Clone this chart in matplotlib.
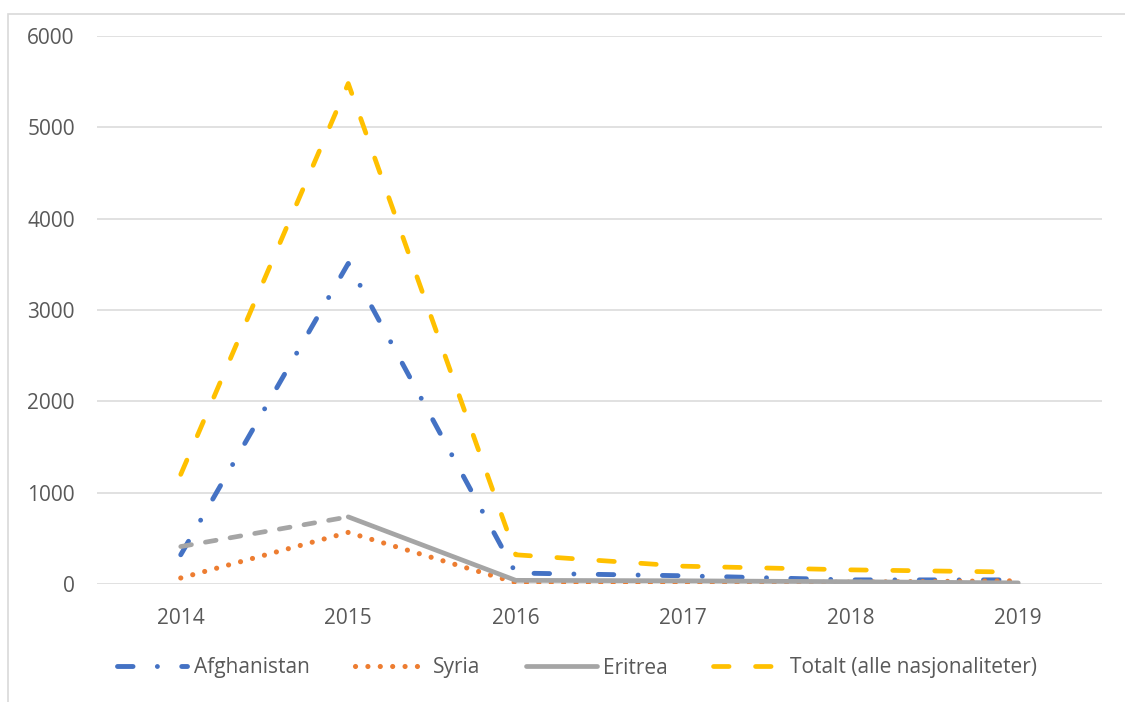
# Enslige mindreårige asylsøkere 2014-2019, etter nasjonalitet

import matplotlib
matplotlib.use('Agg')
import matplotlib.pyplot as plt
from matplotlib.patches import Rectangle

years = ['2014', '2015', '2016', '2017', '2018', '2019']
afghanistan = [320, 3510, 120, 90, 45, 45]
syria = [66, 565, 15, 12, 20, 35]
eritrea = [410, 735, 40, 35, 25, 12]
totalt = [1200, 5480, 320, 195, 155, 130]
y_ticks = [0, 1000, 2000, 3000, 4000, 5000, 6000]

plt.rcParams['font.family'] = ['Open Sans', 'DejaVu Sans']
text_grey = '#595959'

fig = plt.figure(figsize=(11.25, 7.02), dpi=100)
ax = fig.add_axes([97 / 1125, 118 / 702, 1005 / 1125, 548 / 702])

# Outer chart border (partly cut off by the page crop)
fig.patches.append(Rectangle((8 / 1125, -0.05), 1.2, 1 - 14 / 702 + 0.05,
                             transform=fig.transFigure, fill=False,
                             edgecolor='#d9d9d9', lw=1.2))

x = list(range(len(years)))

ax.plot(x, afghanistan, color='#4472C4', lw=3.5, dashes=(3.2, 5.0, 0.01, 5.0),
        dash_capstyle='round', label='Afghanistan', zorder=3)
ax.plot(x, syria, color='#ED7D31', lw=3.7, dashes=(0.01, 2.4),
        dash_capstyle='round', label='Syria', zorder=3)
ax.plot(x[:2], eritrea[:2], color='#A5A5A5', lw=3.4, dashes=(2.3, 3.0),
        dash_capstyle='round', zorder=3)
ax.plot(x[1:], eritrea[1:], color='#A5A5A5', lw=3.4, solid_capstyle='round',
        solid_joinstyle='round', label='Eritrea', zorder=3)
ax.plot(x, totalt, color='#FFC000', lw=3.4, dashes=(3.3, 5.6),
        dash_capstyle='round', label='Totalt (alle nasjonaliteter)', zorder=3)

ax.set_xlim(-0.5, 5.5)
ax.set_ylim(0, 6000)
ax.set_yticks(y_ticks)
ax.set_xticks(x)
ax.set_xticklabels(years)
ax.grid(axis='y', color='#d9d9d9', lw=1.1)
ax.set_axisbelow(True)
for s in ax.spines.values():
    s.set_visible(False)
ax.tick_params(length=0, labelsize=15, colors=text_grey)
ax.tick_params(axis='x', pad=17)
ax.tick_params(axis='y', pad=16)

fig.legend(loc='center', bbox_to_anchor=(577 / 1125, 34 / 702), ncol=4,
           frameon=False, fontsize=15, labelcolor=text_grey,
           handlelength=3.4, handletextpad=0.3, columnspacing=2.2)

fig.savefig('out.png', dpi=100)
